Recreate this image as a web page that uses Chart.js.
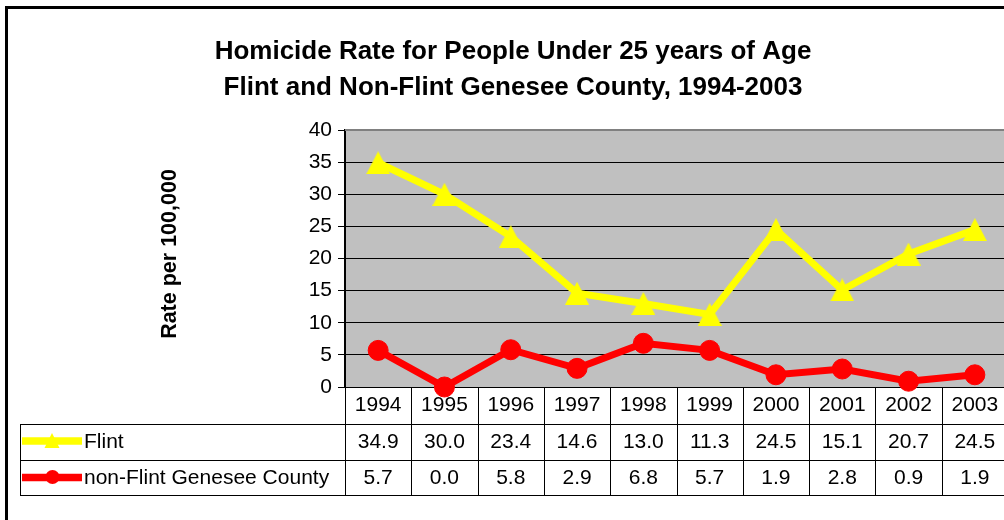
<!DOCTYPE html>
<html>
<head>
<meta charset="utf-8">
<script src="https://cdn.jsdelivr.net/npm/chart.js@4.4.1/dist/chart.umd.min.js"></script>
<style>
  html, body { margin:0; padding:0; background:#fff; overflow:hidden; }
  #wrap { width:1004px; height:520px; overflow:hidden; position:relative; }
  canvas { display:block; }
</style>
</head>
<body>
<div id="wrap"><canvas id="c" width="1012" height="520"></canvas></div>
<script>
// ── data ─────────────────────────────────────────────
const years    = ['1994','1995','1996','1997','1998','1999','2000','2001','2002','2003'];
const flint    = [34.9, 30.0, 23.4, 14.6, 13.0, 11.3, 24.5, 15.1, 20.7, 24.5];
const nonFlint = [5.7, 0.0, 5.8, 2.9, 6.8, 5.7, 1.9, 2.8, 0.9, 1.9];
const titleLines = ['Homicide Rate for People Under 25 years of Age',
                    'Flint and Non-Flint Genesee County, 1994-2003'];
const yTitle = 'Rate per 100,000';

const FONT = 'Arial, "Liberation Sans", sans-serif';

// Excel-style triangle marker (box-centred on the point)
const triMarker = document.createElement('canvas');
triMarker.width = 24; triMarker.height = 23;
(() => {
  const t = triMarker.getContext('2d');
  t.fillStyle = '#FFFF00';
  t.beginPath(); t.moveTo(12, 0); t.lineTo(24, 23); t.lineTo(0, 23); t.closePath(); t.fill();
})();

// background, plot fill, outer frame
const bgPlugin = {
  id: 'bg',
  beforeDraw(chart) {
    const { ctx, chartArea: a } = chart;
    ctx.save();
    ctx.fillStyle = '#fff';
    ctx.fillRect(0, 0, chart.width, chart.height);
    ctx.fillStyle = '#C0C0C0';
    ctx.fillRect(a.left, a.top, a.right - a.left, a.bottom - a.top);
    ctx.strokeStyle = '#000';
    ctx.lineWidth = 3;
    ctx.strokeRect(6.5, 7.5, 1200, 700);
    ctx.restore();
  }
};

// data table under the plot + rotated axis title
const tablePlugin = {
  id: 'dataTable',
  beforeDatasetsDraw(chart) {
    const { ctx, chartArea: a, scales: { x } } = chart;
    const colW = (a.right - a.left) / years.length;
    const rowY = [a.bottom, 424, 460, 495];
    ctx.save();

    // plot top border
    ctx.strokeStyle = '#808080';
    ctx.lineWidth = 2;
    ctx.beginPath(); ctx.moveTo(a.left, a.top); ctx.lineTo(a.right, a.top); ctx.stroke();

    // grid
    ctx.strokeStyle = '#000';
    ctx.lineWidth = 1;
    ctx.beginPath();
    for (let i = 0; i <= years.length; i++) {
      const bx = Math.round(a.left + i * colW) + 0.5;
      ctx.moveTo(bx, a.bottom); ctx.lineTo(bx, rowY[3]);
    }
    [rowY[1], rowY[2], rowY[3]].forEach(yy => {
      ctx.moveTo(20, yy + 0.5); ctx.lineTo(a.right, yy + 0.5);
    });
    ctx.moveTo(20.5, rowY[1]); ctx.lineTo(20.5, rowY[3]);
    ctx.stroke();

    // cell text
    ctx.fillStyle = '#000';
    ctx.font = '21px ' + FONT;
    ctx.textAlign = 'center';
    ctx.textBaseline = 'middle';
    years.forEach((yr, i) => {
      const cx = x.getPixelForValue(i);
      ctx.fillText(yr, cx, 405);
      ctx.fillText(flint[i].toFixed(1), cx, 442);
      ctx.fillText(nonFlint[i].toFixed(1), cx, 478);
    });

    // legend keys
    ctx.textAlign = 'left';
    ctx.fillText('Flint', 84, 442);
    ctx.fillText('non-Flint Genesee County', 84, 478);
    ctx.lineWidth = 7.5;
    ctx.strokeStyle = '#FFFF00';
    ctx.beginPath(); ctx.moveTo(22, 441); ctx.lineTo(82, 441); ctx.stroke();
    ctx.fillStyle = '#FFFF00';
    ctx.beginPath(); ctx.moveTo(52, 433); ctx.lineTo(59.5, 448); ctx.lineTo(44.5, 448); ctx.closePath(); ctx.fill();
    ctx.strokeStyle = '#FF0000';
    ctx.beginPath(); ctx.moveTo(22, 477.5); ctx.lineTo(82, 477.5); ctx.stroke();
    ctx.fillStyle = '#FF0000';
    ctx.beginPath(); ctx.arc(52.5, 477, 7, 0, Math.PI * 2); ctx.fill();

    // y axis title
    ctx.fillStyle = '#000';
    ctx.font = 'bold 21.5px ' + FONT;
    ctx.textAlign = 'center';
    ctx.translate(170, 254);
    ctx.rotate(-Math.PI / 2);
    ctx.fillText(yTitle, 0, 0);
    ctx.restore();
  }
};

new Chart(document.getElementById('c'), {
  type: 'line',
  data: {
    labels: years,
    datasets: [
      { label: 'Flint', data: flint, borderColor: '#FFFF00', backgroundColor: '#FFFF00',
        borderWidth: 7, pointStyle: triMarker, pointRadius: 12,
        tension: 0, clip: false },
      { label: 'non-Flint Genesee County', data: nonFlint, borderColor: '#FF0000', backgroundColor: '#FF0000',
        pointBorderColor: '#FF0000', pointBackgroundColor: '#FF0000',
        borderWidth: 7, pointStyle: 'circle', pointRadius: 10, pointBorderWidth: 1,
        tension: 0, clip: false }
    ]
  },
  options: {
    responsive: false,
    animation: false,
    devicePixelRatio: 1,
    layout: { autoPadding: false, padding: { left: 18, right: 4, top: 0, bottom: 133 } },
    plugins: {
      legend: { display: false },
      tooltip: { enabled: false },
      title: {
        display: true,
        text: titleLines,
        color: '#000',
        font: { family: FONT, size: 26, weight: 'bold', lineHeight: 1.385 },
        padding: { top: 34, bottom: 24 }
      }
    },
    scales: {
      x: { type: 'category', offset: true, display: false },
      y: {
        min: 0, max: 40,
        afterFit: s => { s.width = 327; },
        ticks: { stepSize: 5, color: '#000', padding: 6, font: { family: FONT, size: 21 } },
        grid: { color: '#000', lineWidth: 1, tickLength: 7, drawTicks: true },
        border: { display: true, color: '#000', width: 2 }
      }
    }
  },
  plugins: [bgPlugin, tablePlugin]
});
</script>
</body>
</html>
